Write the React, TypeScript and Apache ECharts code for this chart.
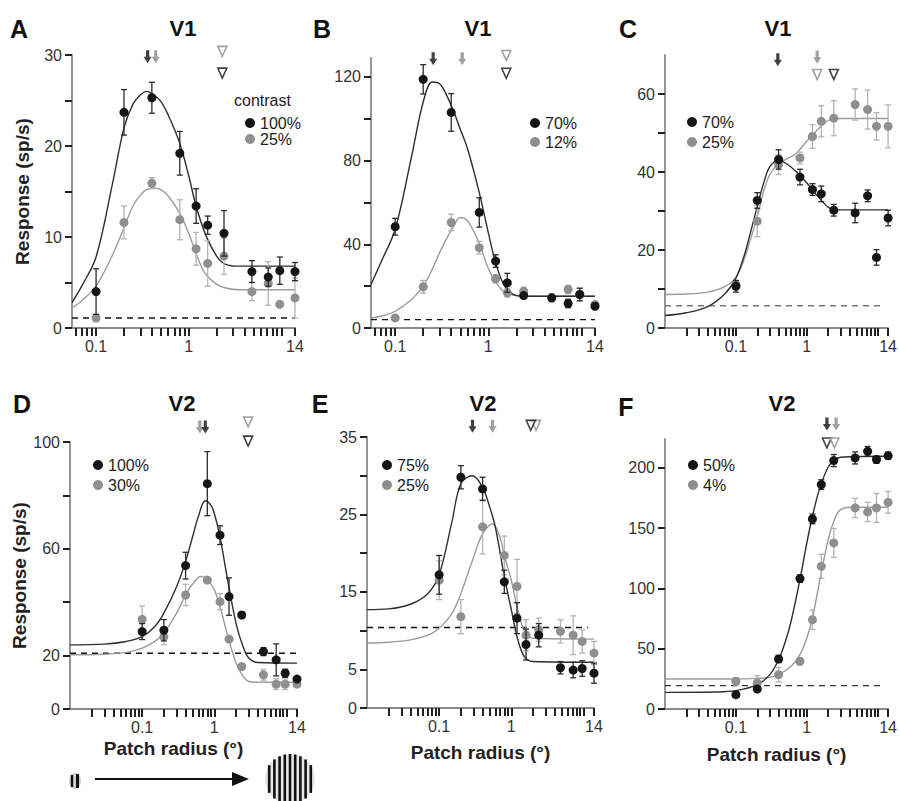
import { useEffect, useRef } from "react";
import * as echarts from "echarts";

const FONT = "'Liberation Sans', Arial, Helvetica, sans-serif";

// ---------- shared axis values ----------
const radii = [0.1, 0.2, 0.4, 0.8, 1.2, 1.6, 2.4, 4.8, 7.2, 9.6, 14];
const xTickValues = [0.02, 0.03, 0.04, 0.05, 0.06, 0.07, 0.08, 0.09, 0.1, 0.2, 0.3, 0.4, 0.5, 0.6, 0.7, 0.8, 0.9, 1, 2, 3, 4, 5, 6, 7, 8, 9, 10, 14];
const xLabelValues = [0.1, 1, 14];

// ---------- Panel A (V1, 100% / 25%) ----------
const aHigh = [4.0, 23.7, 25.3, 19.2, 13.4, 11.3, 10.4, 6.2, 5.6, 6.3, 6.2];
const aHighErr = [2.5, 2.5, 1.7, 2.4, 1.9, 1.0, 2.5, 1.2, 1.0, 1.5, 1.0];
const aLow = [1.1, 11.6, 15.9, 11.9, 8.7, 7.1, 7.9, 4.0, 4.9, 2.6, 3.3];
const aLowErr = [0, 1.8, 0.6, 2.2, 1.8, 2.5, 2.0, 1.0, 2.4, 0, 2.2];
const aFitX = [0.055, 0.07, 0.1, 0.15, 0.2, 0.25, 0.3, 0.35, 0.42, 0.5, 0.6, 0.8, 1, 1.2, 1.5, 2, 2.5, 3.5, 14];
const aFitHigh = [2.8, 4.6, 7.8, 15.8, 22, 24.6, 25.6, 26, 25.6, 24.9, 23.4, 20.3, 16.7, 13.4, 10.4, 7.9, 7.0, 6.8, 6.8];
const aFitLow = [2.2, 3.0, 4.6, 8.0, 11.0, 13.4, 14.6, 15.2, 15.4, 15.2, 14.5, 12.6, 10.4, 8.2, 6.0, 4.8, 4.4, 4.2, 4.2];
const aBaseline = 1.1;
const aMarks = [[0.36, 29.8, "fill", "k"], [0.44, 29.8, "fill", "g"], [2.3, 30.4, "open", "g"], [2.3, 28.0, "open", "k"]];
const aLegend = ["100%", "25%"];

// ---------- Panel B (V1, 70% / 12%) ----------
const bHigh = [48.4, 118.8, 103, 55.2, 32, 21.6, 15.5, 14.4, 11.7, 16, 10.4];
const bHighErr = [4, 7, 9, 7, 3, 4.5, 1, 1, 2, 3, 1];
const bLow = [4.8, 19.7, 50.4, 38.4, 23.5, 16.8, 17.5, 14.4, 18.4, 16, 11.2];
const bLowErr = [0, 3, 4, 3, 2, 2, 2, 2, 2, 3, 0];
const bFitX = [0.055, 0.07, 0.1, 0.15, 0.2, 0.25, 0.3, 0.35, 0.42, 0.5, 0.6, 0.8, 1, 1.2, 1.5, 2, 2.5, 3.5, 14];
const bFitHigh = [20.8, 31.2, 47.2, 82, 108, 117.5, 116.7, 112, 104, 95, 85.5, 64.7, 45.6, 31.2, 20, 15.5, 15.2, 15.2, 15.2];
const bFitLow = [4.8, 5.6, 8.0, 13.6, 20, 28, 36, 42, 48.3, 52.8, 51.2, 40.5, 28.5, 22, 17.1, 15.5, 15.2, 15.2, 15.2];
const bBaseline = 4;
const bMarks = [[0.256, 128.7, "fill", "k"], [0.525, 128.7, "fill", "g"], [1.56, 130.2, "open", "g"], [1.56, 121.7, "open", "k"]];
const bLegend = ["70%", "12%"];

// ---------- Panel C (V1, 70% / 25%) ----------
const cHigh = [10.7, 32.7, 43.2, 38.7, 35.5, 34.4, 30.2, 29.5, 33.9, 18.1, 28.2];
const cHighErr = [1.5, 2, 2.5, 2, 1.5, 2, 1.5, 2.5, 1.5, 2, 2];
const cLow = [11.1, 27.4, 41.9, 43.6, 49.1, 53, 53.8, 57.3, 56, 51.7, 51.7];
const cLowErr = [1, 4, 2.5, 1.5, 3, 4, 4.5, 4, 5, 3.5, 5.5];
const cFitX = [0.01, 0.02, 0.04, 0.07, 0.1, 0.13, 0.16, 0.2, 0.25, 0.3, 0.4, 0.5, 0.7, 1, 1.5, 2, 2.5, 14];
const cFitHigh = [3.2, 3.9, 5.5, 8.8, 12.8, 18.4, 24.4, 31.2, 37.6, 41.3, 43, 42.3, 40.2, 37.2, 33.3, 31, 30.3, 30.3];
const cFitLow = [8.6, 8.7, 9.2, 10.6, 13.0, 17.5, 22.6, 28.6, 35.5, 39.3, 42.3, 43.2, 44.7, 47.9, 51.3, 53.2, 53.7, 53.7];
const cBaseline = 5.7;
const cMarks = [[0.39, 68.8, "fill", "k"], [1.4, 69.4, "fill", "g"], [1.4, 65, "open", "g"], [2.4, 65, "open", "k"]];
const cLegend = ["70%", "25%"];

// ---------- Panel D (V2, 100% / 30%) ----------
const dHigh = [29, 29.5, 53.7, 84.4, 65.1, 42.1, 35.2, 21.5, 18.4, 13.4, 11.2];
const dHighErr = [3, 4, 5, 12, 3.5, 7, 1, 1.5, 6, 1.5, 0.5];
const dLow = [33.6, 27.1, 42.7, 48.3, 40.2, 26.2, 15.9, 12.8, 9.3, 9.3, 9.3];
const dLowErr = [5, 3, 4, 1, 3, 1, 1, 2, 2, 2, 1];
const dFitHighX = [0.01, 0.03, 0.06, 0.1, 0.15, 0.2, 0.3, 0.4, 0.5, 0.6, 0.75, 0.9, 1, 1.2, 1.5, 2, 2.5, 3, 4, 14];
const dFitHigh = [24, 24.3, 25.3, 27.1, 30.9, 35.9, 45.8, 55.2, 64.5, 72, 78, 76.3, 73.2, 64.5, 49.6, 32.1, 23.4, 19.1, 17.4, 17.2];
const dFitLowX = [0.01, 0.03, 0.06, 0.1, 0.15, 0.2, 0.3, 0.4, 0.5, 0.65, 0.8, 1, 1.2, 1.5, 2, 2.5, 3, 4, 14];
const dFitLow = [20.3, 20.5, 21.2, 22.8, 25.3, 28.4, 35.9, 42.7, 46.8, 49.6, 48.6, 44.6, 38.4, 28.4, 17.2, 12.2, 10.3, 10, 10];
const dBaseline = 20.9;
const dMarks = [[0.63, 105.6, "fill", "g"], [0.75, 105.6, "fill", "k"], [2.94, 107.5, "open", "g"], [2.94, 100.3, "open", "k"]];
const dLegend = ["100%", "30%"];

// ---------- Panel E (V2, 75% / 25%) ----------
const eHigh = [17.2, 29.8, 28.3, 16.3, 11.6, 8.2, 9.4, 5.2, 4.9, 5.1, 4.5];
const eHighErr = [2.5, 1.5, 1.5, 1.5, 2, 2, 1.5, 0.8, 1, 1, 1.3];
const eLow = [16.5, 11.8, 23.4, 19.7, 15.7, 9.4, 10.1, 9.9, 9.4, 8.6, 7.1];
const eLowErr = [2.5, 2.2, 3.5, 2.5, 3.5, 2, 1.5, 1.5, 2.5, 1.5, 1.5];
const eFitHighX = [0.01, 0.02, 0.04, 0.07, 0.1, 0.15, 0.2, 0.29, 0.4, 0.5, 0.6, 0.8, 1, 1.2, 1.5, 2, 14];
const eFitHigh = [12.7, 12.8, 13.4, 14.8, 17.2, 24, 29, 30, 28.5, 26, 23.4, 17, 12.7, 9.2, 6.7, 6.0, 5.9];
const eFitLowX = [0.01, 0.02, 0.04, 0.07, 0.1, 0.15, 0.2, 0.3, 0.4, 0.55, 0.7, 0.8, 1, 1.2, 1.5, 2, 14];
const eFitLow = [8.4, 8.5, 8.8, 9.4, 10.3, 12.2, 14.8, 19.5, 22.5, 23.8, 22, 19.7, 16.5, 13.1, 10.1, 9.0, 8.9];
const eBaseline = 10.4;
const eMarks = [[0.29, 36.4, "fill", "k"], [0.55, 36.4, "fill", "g"], [2.2, 36.5, "open", "g"], [1.86, 36.5, "open", "k"]];
const eLegend = ["75%", "25%"];

// ---------- Panel F (V2, 50% / 4%) ----------
const fHigh = [11.9, 16.6, 41.5, 108.2, 157.7, 186.2, 206.1, 208.3, 213.8, 206.9, 210.2];
const fHighErr = [2, 2, 3, 3, 4, 4, 5, 5, 4, 3, 3];
const fLow = [23, 21.6, 28.5, 39.6, 74.1, 118.4, 137.8, 166.8, 163.5, 166.8, 171.5];
const fLowErr = [3, 6, 6, 3, 8, 10, 12, 8, 8, 12, 9];
const fFitHighX = [0.01, 0.05, 0.1, 0.2, 0.3, 0.4, 0.5, 0.6, 0.8, 1, 1.2, 1.5, 2, 2.5, 3, 14];
const fFitHigh = [13.8, 14.1, 15.2, 20.2, 28.5, 40.9, 56.2, 72.8, 107.3, 137.8, 159.9, 182, 200.8, 206.9, 208.9, 209.7];
const fFitLowX = [0.01, 0.1, 0.2, 0.3, 0.4, 0.6, 0.8, 1, 1.2, 1.5, 2, 2.5, 3, 4, 14];
const fFitLow = [24.9, 24.9, 25.4, 26.3, 28.5, 35.4, 45.1, 58.9, 75.5, 104.6, 140.5, 158.5, 165.4, 167.4, 167.4];
const fBaseline = 19.4;
const fMarks = [[1.92, 236.5, "fill", "k"], [2.59, 236.5, "fill", "g"], [1.92, 220.7, "open", "k"], [2.45, 220.7, "open", "g"]];
const fLegend = ["50%", "4%"];

// ---------- styling ----------
const BLACK = "#151515";
const GRAY = "#8f8f8f";
const BLACK_ERR = "#2a2a2a";
const GRAY_ERR = "#b3b3b3";
const BLACK_FIT = "#2e2e2e";
const GRAY_FIT = "#9c9c9c";
const AXIS = "#8a8a8a";
const TICK = "#222222";
const LABEL = "#333";

const ARROW = "path://M3,0 L7,0 L7,7 L10,7 L5,14 L0,7 L3,7 Z";
const TRI = "path://M0,0 L10,0 L5,10 Z";

type PanelCfg = {
  grid: { left: number; top: number; width: number; height: number };
  xMin: number;
  yMax: number;
  yTicks: number[];
  yLabels: number[];
  high: number[]; highErr: number[]; low: number[]; lowErr: number[];
  fitHighX: number[]; fitHigh: number[]; fitLowX: number[]; fitLow: number[];
  baseline: number; baseEnd: number; baseColor: string;
  marks: any[];
  legend: string[];
  legendPos: { left: number; top: number; gap: number };
  yName?: string;
  xName?: string;
  xNameGap?: number;
  xNamePad?: number[];
};

const range = (a: number, b: number, s: number) => {
  const out: number[] = [];
  for (let v = a; v <= b + 1e-9; v += s) out.push(Math.round(v * 1000) / 1000);
  return out;
};

const panels: PanelCfg[] = [
  {
    grid: { left: 72, top: 55, width: 223, height: 273 }, xMin: 0.055, yMax: 30,
    yTicks: range(0, 30, 5), yLabels: [0, 10, 20, 30],
    high: aHigh, highErr: aHighErr, low: aLow, lowErr: aLowErr,
    fitHighX: aFitX, fitHigh: aFitHigh, fitLowX: aFitX, fitLow: aFitLow,
    baseline: aBaseline, baseEnd: 14, baseColor: "#111", marks: aMarks, legend: aLegend,
    legendPos: { left: 240, top: 110, gap: 0 }, yName: "Response (sp/s)",
  },
  {
    grid: { left: 371, top: 58, width: 224, height: 270 }, xMin: 0.055, yMax: 129,
    yTicks: range(0, 120, 20), yLabels: [0, 40, 80, 120],
    high: bHigh, highErr: bHighErr, low: bLow, lowErr: bLowErr,
    fitHighX: bFitX, fitHigh: bFitHigh, fitLowX: bFitX, fitLow: bFitLow,
    baseline: bBaseline, baseEnd: 14, baseColor: "#111", marks: bMarks, legend: bLegend,
    legendPos: { left: 525, top: 110, gap: 3 },
  },
  {
    grid: { left: 665, top: 55, width: 227, height: 273 }, xMin: 0.01, yMax: 70,
    yTicks: range(0, 60, 10), yLabels: [0, 20, 40, 60],
    high: cHigh, highErr: cHighErr, low: cLow, lowErr: cLowErr,
    fitHighX: cFitX, fitHigh: cFitHigh, fitLowX: cFitX, fitLow: cFitLow,
    baseline: cBaseline, baseEnd: 11, baseColor: "#777", marks: cMarks, legend: cLegend,
    legendPos: { left: 682, top: 109, gap: 4 },
  },
  {
    grid: { left: 70, top: 442, width: 227, height: 267 }, xMin: 0.01, yMax: 100,
    yTicks: range(0, 100, 20), yLabels: [0, 20, 60, 100],
    high: dHigh, highErr: dHighErr, low: dLow, lowErr: dLowErr,
    fitHighX: dFitHighX, fitHigh: dFitHigh, fitLowX: dFitLowX, fitLow: dFitLow,
    baseline: dBaseline, baseEnd: 14, baseColor: "#111", marks: dMarks, legend: dLegend,
    legendPos: { left: 88, top: 452, gap: 4 }, yName: "Response (sp/s)",
    xName: "Patch radius (°)", xNameGap: 30, xNamePad: [0, 20, 0, 0],
  },
  {
    grid: { left: 367, top: 437, width: 227, height: 271 }, xMin: 0.01, yMax: 35,
    yTicks: range(0, 35, 5), yLabels: [0, 5, 15, 25, 35],
    high: eHigh, highErr: eHighErr, low: eLow, lowErr: eLowErr,
    fitHighX: eFitHighX, fitHigh: eFitHigh, fitLowX: eFitLowX, fitLow: eFitLow,
    baseline: eBaseline, baseEnd: 11.5, baseColor: "#111", marks: eMarks, legend: eLegend,
    legendPos: { left: 377, top: 452, gap: 4 },
    xName: "Patch radius (°)", xNameGap: 35,
  },
  {
    grid: { left: 665, top: 439, width: 227, height: 270 }, xMin: 0.01, yMax: 224,
    yTicks: range(0, 200, 50), yLabels: [0, 50, 100, 150, 200],
    high: fHigh, highErr: fHighErr, low: fLow, lowErr: fLowErr,
    fitHighX: fFitHighX, fitHigh: fFitHigh, fitLowX: fFitLowX, fitLow: fFitLow,
    baseline: fBaseline, baseEnd: 11, baseColor: "#333", marks: fMarks, legend: fLegend,
    legendPos: { left: 683, top: 452, gap: 4 },
    xName: "Patch radius (°)", xNameGap: 36,
  },
];

const titles = [
  { letter: "A", lx: 19, ly: 29, area: "V1", ax: 183, ay: 28 },
  { letter: "B", lx: 322, ly: 29, area: "V1", ax: 478, ay: 28 },
  { letter: "C", lx: 628, ly: 29, area: "V1", ax: 778, ay: 28 },
  { letter: "D", lx: 22, ly: 404, area: "V2", ax: 182, ay: 403 },
  { letter: "E", lx: 320, ly: 404, area: "V2", ax: 483, ay: 403 },
  { letter: "F", lx: 626, ly: 407, area: "V2", ax: 782, ay: 403 },
];

function errSeries(i: number, means: number[], errs: number[], color: string, z: number) {
  const data = radii
    .map((x, k) => [x, means[k] - errs[k], means[k] + errs[k]])
    .filter((_, k) => errs[k] > 0);
  return {
    type: "custom",
    xAxisIndex: i,
    yAxisIndex: i,
    silent: true,
    z,
    data,
    encode: { x: 0, y: [1, 2] },
    renderItem: (_params: any, api: any) => {
      const x = api.value(0);
      const lo = api.coord([x, api.value(1)]);
      const hi = api.coord([x, api.value(2)]);
      const cw = 3;
      const st = { stroke: color, lineWidth: 1.3 };
      return {
        type: "group",
        children: [
          { type: "line", shape: { x1: lo[0], y1: lo[1], x2: hi[0], y2: hi[1] }, style: st },
          { type: "line", shape: { x1: hi[0] - cw, y1: hi[1], x2: hi[0] + cw, y2: hi[1] }, style: st },
          { type: "line", shape: { x1: lo[0] - cw, y1: lo[1], x2: lo[0] + cw, y2: lo[1] }, style: st },
        ],
      };
    },
  };
}

function buildOption() {
  const grid: any[] = [];
  const xAxis: any[] = [];
  const yAxis: any[] = [];
  const series: any[] = [];
  const legend: any[] = [];

  panels.forEach((p, i) => {
    grid.push({ ...p.grid });
    xAxis.push({
      type: "log",
      gridIndex: i,
      min: p.xMin,
      max: 14,
      name: p.xName || "",
      nameLocation: "middle",
      nameGap: p.xNameGap || 30,
      nameTextStyle: {
        fontFamily: FONT, fontSize: 19, fontWeight: "bold", color: "#222",
        padding: p.xNamePad || [0, 0, 0, 0],
      },
      axisLine: { lineStyle: { color: AXIS, width: 1.8 } },
      axisTick: {
        show: true,
        customValues: xTickValues.filter((v) => v >= p.xMin),
        length: 8,
        lineStyle: { color: TICK, width: 2 },
      },
      splitLine: { show: false },
      axisLabel: {
        customValues: xLabelValues,
        formatter: (v: number) => (v < 0.5 ? "0.1" : v < 5 ? "1" : "14"),
        fontFamily: FONT, fontSize: 16, color: LABEL, margin: 10,
      },
    });
    yAxis.push({
      type: "value",
      gridIndex: i,
      min: 0,
      max: p.yMax,
      name: p.yName || "",
      nameLocation: "middle",
      nameRotate: 90,
      nameGap: 40,
      nameTextStyle: { fontFamily: FONT, fontSize: 19, fontWeight: "bold", color: "#222" },
      axisLine: { show: true, lineStyle: { color: AXIS, width: 1.8 } },
      axisTick: { show: true, customValues: p.yTicks, length: 7, lineStyle: { color: TICK, width: 2 } },
      splitLine: { show: false },
      axisLabel: { customValues: p.yLabels, fontFamily: FONT, fontSize: 16, color: LABEL, margin: 10 },
    });

    // dashed baseline (spontaneous rate)
    series.push({
      type: "line",
      name: "baseline",
      xAxisIndex: i, yAxisIndex: i,
      data: [[p.xMin, p.baseline], [p.baseEnd, p.baseline]],
      symbol: "none",
      silent: true,
      lineStyle: { color: p.baseColor, width: 1.4, type: [6, 5] },
      z: 1,
    });
    // fitted curves
    series.push({
      type: "line",
      name: "fit-low",
      xAxisIndex: i, yAxisIndex: i,
      data: p.fitLowX.map((x, k) => [x, p.fitLow[k]]),
      symbol: "none", smooth: 0.35, silent: true,
      lineStyle: { color: GRAY_FIT, width: 1.4 },
      z: 2,
    });
    series.push({
      type: "line",
      name: "fit-high",
      xAxisIndex: i, yAxisIndex: i,
      data: p.fitHighX.map((x, k) => [x, p.fitHigh[k]]),
      symbol: "none", smooth: 0.35, silent: true,
      lineStyle: { color: BLACK_FIT, width: 1.4 },
      z: 3,
    });
    // error bars + points
    series.push(errSeries(i, p.low, p.lowErr, GRAY_ERR, 4));
    series.push({
      type: "scatter",
      name: p.legend[1],
      xAxisIndex: i, yAxisIndex: i,
      data: radii.map((x, k) => [x, p.low[k]]),
      symbol: "circle", symbolSize: 9,
      itemStyle: { color: GRAY, opacity: 1 },
      z: 5,
    });
    series.push(errSeries(i, p.high, p.highErr, BLACK_ERR, 6));
    series.push({
      type: "scatter",
      name: p.legend[0],
      xAxisIndex: i, yAxisIndex: i,
      data: radii.map((x, k) => [x, p.high[k]]),
      symbol: "circle", symbolSize: 9,
      itemStyle: { color: BLACK, opacity: 1 },
      z: 7,
    });
    // preferred-size markers above each plot
    series.push({
      type: "scatter",
      name: "markers",
      xAxisIndex: i, yAxisIndex: i,
      clip: false,
      silent: true,
      z: 8,
      data: p.marks.map((m: any[]) => {
        const col = m[3] === "k" ? "#111" : "#8a8a8a";
        if (m[2] === "fill") {
          return { value: [m[0], m[1]], symbol: ARROW, symbolSize: [8, 13], itemStyle: { color: col } };
        }
        return {
          value: [m[0], m[1]], symbol: TRI, symbolSize: [9, 10],
          itemStyle: { color: "#fff", borderColor: col, borderWidth: 1.6 },
        };
      }),
    });

    legend.push({
      orient: "vertical",
      left: p.legendPos.left,
      top: p.legendPos.top,
      itemWidth: 10,
      itemHeight: 10,
      itemGap: p.legendPos.gap,
      selectedMode: false,
      data: p.legend.map((n) => ({ name: n, icon: "circle" })),
      textStyle: { fontFamily: FONT, fontSize: 16, color: "#222", lineHeight: 16 },
    });
  });

  const graphic: any[] = [];
  titles.forEach((t) => {
    graphic.push({
      type: "text", x: t.lx, y: t.ly,
      style: { text: t.letter, font: `bold 25px ${FONT}`, fill: "#111", align: "center", verticalAlign: "middle" },
    });
    graphic.push({
      type: "text", x: t.ax, y: t.ay,
      style: { text: t.area, font: `bold 22px ${FONT}`, fill: "#111", align: "center", verticalAlign: "middle" },
    });
  });
  graphic.push({
    type: "text", x: 234, y: 100,
    style: { text: "contrast", font: `16px ${FONT}`, fill: "#222", align: "left", verticalAlign: "middle" },
  });
  // small grating, arrow, large grating
  graphic.push({ type: "ellipse", shape: { cx: 75, cy: 781, rx: 6, ry: 8 }, style: { fill: "#d0d0d0" } });
  graphic.push({ type: "line", shape: { x1: 72, y1: 775, x2: 72, y2: 787 }, style: { stroke: "#111", lineWidth: 2.4 } });
  graphic.push({ type: "line", shape: { x1: 77.5, y1: 774, x2: 77.5, y2: 788 }, style: { stroke: "#111", lineWidth: 3 } });
  graphic.push({ type: "line", shape: { x1: 95, y1: 779, x2: 236, y2: 779 }, style: { stroke: "#111", lineWidth: 2 } });
  graphic.push({ type: "polygon", shape: { points: [[232, 772], [249, 779], [232, 786]] }, style: { fill: "#111" } });
  const cx = 290, cy = 779, r = 25;
  graphic.push({ type: "circle", shape: { cx, cy, r }, style: { fill: "#e6e6e6" } });
  for (let k = -4; k <= 4; k++) {
    const dx = k * 5.2;
    const h = Math.sqrt(Math.max(0, r * r - dx * dx));
    graphic.push({
      type: "line",
      shape: { x1: cx + dx, y1: cy - h, x2: cx + dx, y2: cy + h },
      style: { stroke: "#111", lineWidth: 2.6 },
    });
  }

  return {
    animation: false,
    backgroundColor: "#fff",
    grid,
    xAxis,
    yAxis,
    legend,
    series,
    graphic,
  };
}

export default function App() {
  const ref = useRef<HTMLDivElement>(null);
  useEffect(() => {
    if (!ref.current) return;
    const chart = echarts.init(ref.current, undefined, { renderer: "svg" });
    chart.setOption(buildOption() as any);
    return () => chart.dispose();
  }, []);
  return (
    <div
      ref={ref}
      style={{ position: "absolute", left: 0, top: 0, width: 900, height: 801, background: "#fff" }}
    />
  );
}
